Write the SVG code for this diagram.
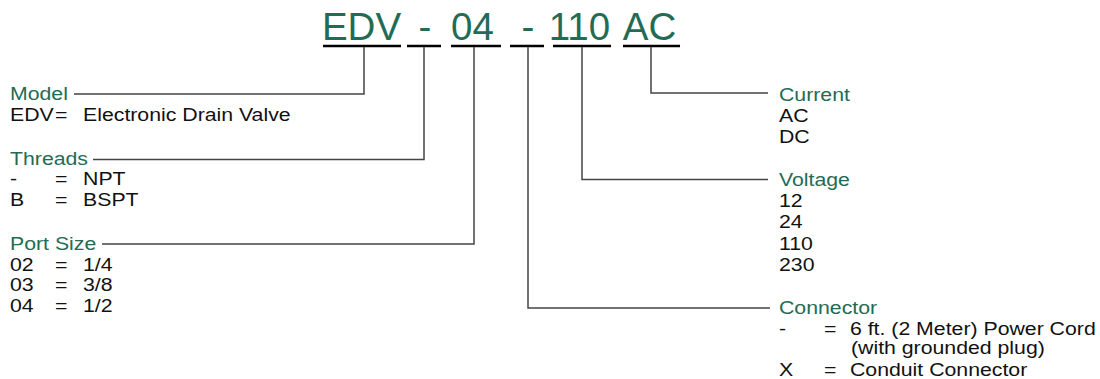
<svg xmlns="http://www.w3.org/2000/svg" width="1100" height="379" viewBox="0 0 1100 379">
<style>
.t{font-family:"Liberation Sans",Arial,Helvetica,sans-serif;font-size:38.5px;fill:#236b54;text-anchor:middle}
.h{font-family:"Liberation Sans",Arial,Helvetica,sans-serif;font-size:18.5px;fill:#236b54}
.b{font-family:"Liberation Sans",Arial,Helvetica,sans-serif;font-size:18.5px;fill:#111}
.ul{stroke:#000;stroke-width:2.5;fill:none}
.c{stroke:#444;stroke-width:1.5;fill:none}
</style>
<rect width="1100" height="379" fill="#fff"/>
<g id="code">
<text class="t" x="361.5" y="40">EDV</text>
<text class="t" x="425" y="40">-</text>
<text class="t" x="472.5" y="40">04</text>
<text class="t" x="528" y="40">-</text>
<text class="t" x="579.5" y="40">110</text>
<text class="t" x="649.5" y="40">AC</text>
<path class="ul" d="M323,46H401M407,46H441M451,46H501M510,46H544M553,46H611M623,46H680"/>
</g>
<g id="connectors">
<path class="c" d="M364,47V94H74"/>
<path class="c" d="M424,47V159.5H93"/>
<path class="c" d="M474,47V244H102"/>
<path class="c" d="M528,47V308H770"/>
<path class="c" d="M582,47V179.5H768"/>
<path class="c" d="M651,47V93H768"/>
</g>
<g id="model" transform="scale(1.15,1)">
<text class="h" x="8.7" y="100.5">Model</text>
<text class="b" x="8.7" y="121.5">EDV</text>
<text class="b" x="47.8" y="121.5">=</text>
<text class="b" x="72.2" y="121.5">Electronic Drain Valve</text>
</g>
<g id="threads" transform="scale(1.15,1)">
<text class="h" x="8.7" y="165.5">Threads</text>
<text class="b" x="8.7" y="185.5">-</text>
<text class="b" x="47.8" y="185.5">=</text>
<text class="b" x="72.2" y="185.5">NPT</text>
<text class="b" x="8.7" y="206">B</text>
<text class="b" x="47.8" y="206">=</text>
<text class="b" x="72.2" y="206">BSPT</text>
</g>
<g id="portsize" transform="scale(1.15,1)">
<text class="h" x="8.7" y="250.5">Port Size</text>
<text class="b" x="8.7" y="271">02</text>
<text class="b" x="47.8" y="271">=</text>
<text class="b" x="72.2" y="271">1/4</text>
<text class="b" x="8.7" y="291.5">03</text>
<text class="b" x="47.8" y="291.5">=</text>
<text class="b" x="72.2" y="291.5">3/8</text>
<text class="b" x="8.7" y="312">04</text>
<text class="b" x="47.8" y="312">=</text>
<text class="b" x="72.2" y="312">1/2</text>
</g>
<g id="current" transform="scale(1.15,1)">
<text class="h" x="677.4" y="101">Current</text>
<text class="b" x="677.4" y="122">AC</text>
<text class="b" x="677.4" y="143">DC</text>
</g>
<g id="voltage" transform="scale(1.15,1)">
<text class="h" x="677.4" y="186">Voltage</text>
<text class="b" x="677.4" y="207">12</text>
<text class="b" x="677.4" y="228.5">24</text>
<text class="b" x="677.4" y="250">110</text>
<text class="b" x="677.4" y="271.5">230</text>
</g>
<g id="connector" transform="scale(1.15,1)">
<text class="h" x="677.4" y="314">Connector</text>
<text class="b" x="677.4" y="335">-</text>
<text class="b" x="716.5" y="335">=</text>
<text class="b" x="739.1" y="335">6 ft. (2 Meter) Power Cord</text>
<text class="b" x="740" y="354.5">(with grounded plug)</text>
<text class="b" x="677.4" y="376">X</text>
<text class="b" x="716.5" y="376">=</text>
<text class="b" x="739.1" y="376">Conduit Connector</text>
</g>
</svg>
